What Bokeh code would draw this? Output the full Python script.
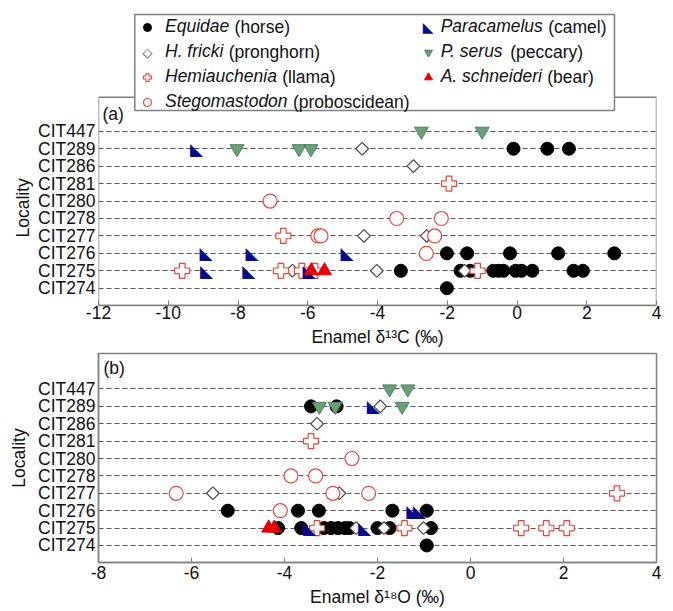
import math
from bokeh.plotting import figure
from bokeh.models import (Range1d, FixedTicker, Legend, LegendItem, Label, Title,
                          BoxAnnotation)
from bokeh.layouts import column
from bokeh.embed import file_html
from bokeh.resources import INLINE
from bokeh.core.properties import value

LOCALITIES = ["CIT274", "CIT275", "CIT276", "CIT277", "CIT278",
              "CIT280", "CIT281", "CIT286", "CIT289", "CIT447"]

XTICKS_A = [-12, -10, -8, -6, -4, -2, 0, 2, 4]
XTICKS_B = [-8, -6, -4, -2, 0, 2, 4]

# ---------------- panel (a): enamel d13C ----------------
EQ_C_LOC = ["CIT289", "CIT289", "CIT289",
            "CIT276", "CIT276", "CIT276", "CIT276", "CIT276",
            "CIT275", "CIT275", "CIT275", "CIT275", "CIT275", "CIT275",
            "CIT275", "CIT275", "CIT275", "CIT275", "CIT275",
            "CIT274"]
EQ_C = [-0.1, 0.87, 1.49,
        -2.01, -1.43, -0.2, 1.18, 2.79,
        -3.33, -1.62, -1.34, -0.68, -0.53, -0.39,
        -0.04, 0.13, 0.44, 1.62, 1.89,
        -2.01]

HF_C_LOC = ["CIT289", "CIT286", "CIT277", "CIT277", "CIT275", "CIT275", "CIT275"]
HF_C = [-4.44, -2.97, -4.39, -2.59, -6.44, -4.02, -1.5]

HE_C_LOC = ["CIT281", "CIT277", "CIT275", "CIT275", "CIT275", "CIT275", "CIT275"]
HE_C = [-1.95, -6.7, -9.6, -6.77, -6.17, -5.79, -1.13]

ST_C_LOC = ["CIT280", "CIT278", "CIT278", "CIT277", "CIT277", "CIT277", "CIT276"]
ST_C = [-7.08, -3.45, -2.17, -5.71, -5.62, -2.36, -2.6]

PA_C_LOC = ["CIT289", "CIT276", "CIT276", "CIT276", "CIT275", "CIT275", "CIT275"]
PA_C = [-9.19, -8.92, -7.6, -4.87, -8.9, -7.69, -5.96]

PS_C_LOC = ["CIT447", "CIT447", "CIT289", "CIT289", "CIT289"]
PS_C = [-2.74, -1.0, -8.03, -6.25, -5.91]

AS_C_LOC = ["CIT275", "CIT275"]
AS_C = [-5.9, -5.52]

# ---------------- panel (b): enamel d18O ----------------
EQ_O_LOC = ["CIT289", "CIT289",
            "CIT276", "CIT276", "CIT276", "CIT276", "CIT276",
            "CIT275", "CIT275", "CIT275", "CIT275", "CIT275", "CIT275",
            "CIT275", "CIT275", "CIT275", "CIT275",
            "CIT274"]
EQ_O = [-3.43, -2.88,
        -5.22, -3.71, -3.26, -1.68, -0.94,
        -4.14, -3.64, -3.15, -3.0, -2.85, -2.7,
        -2.6, -2.0, -1.74, -0.85,
        -0.94]

HF_O_LOC = ["CIT289", "CIT286", "CIT277", "CIT277", "CIT275", "CIT275", "CIT275"]
HF_O = [-1.94, -3.3, -5.54, -2.82, -2.46, -1.86, -1.01]

HE_O_LOC = ["CIT281", "CIT277", "CIT275", "CIT275", "CIT275", "CIT275", "CIT275"]
HE_O = [-3.43, 3.15, -3.3, -1.42, 1.09, 1.63, 2.07]

ST_O_LOC = ["CIT280", "CIT278", "CIT278", "CIT277", "CIT277", "CIT277", "CIT276"]
ST_O = [-2.55, -3.86, -3.33, -6.33, -2.96, -2.19, -4.09]

PA_O_LOC = ["CIT289", "CIT276", "CIT276", "CIT275", "CIT275"]
PA_O = [-2.09, -1.24, -1.1, -3.46, -2.28]

PS_O_LOC = ["CIT447", "CIT447", "CIT289", "CIT289", "CIT289"]
PS_O = [-1.74, -1.35, -3.25, -2.91, -1.47]

AS_O_LOC = ["CIT275", "CIT275"]
AS_O = [-4.34, -4.22]

SPECIES = ["Equidae", "H. fricki", "Hemiauchenia", "Stegomastodon",
           "Paracamelus", "P. serus", "A. schneideri"]
COMMON = ["(horse)", "(pronghorn)", "(llama)", "(proboscidean)",
          "(camel)", "(peccary)", "(bear)"]

FONT = "Liberation Sans"
FS = "17.5px"
GRAY = "#808080"
TXT = "#111111"
CAMEL = "#0a0a8c"
FRICKI = "#4a4a4a"


def yidx(locs):
    return [LOCALITIES.index(l) for l in locs]


def make_panel(xs, xticks, xlabel, height, btop, bbot, ylo, yhi,
               tick_standoff, lab_standoff, data):
    p = figure(width=673, height=height, output_backend="svg", toolbar_location=None,
               x_range=Range1d(xs[0], xs[1]), y_range=Range1d(ylo, yhi),
               min_border_left=98, min_border_right=17, min_border_top=btop,
               min_border_bottom=bbot)
    p.xgrid.visible = False
    p.ygrid.grid_line_color = "#555555"
    p.ygrid.grid_line_dash = "5 3"
    p.ygrid.grid_line_width = 1

    p.xaxis.ticker = FixedTicker(ticks=xticks)
    p.xaxis.major_label_overrides = {t: str(t) for t in xticks}
    p.xaxis.axis_label = xlabel
    p.xaxis.axis_label_standoff = lab_standoff
    p.xaxis.major_label_standoff = tick_standoff
    p.xaxis.major_tick_in = 5
    p.xaxis.major_tick_out = 0

    p.yaxis.ticker = FixedTicker(ticks=list(range(len(LOCALITIES))))
    p.yaxis.major_label_overrides = {i: n for i, n in enumerate(LOCALITIES)}
    p.yaxis.major_label_standoff = 3
    p.yaxis.major_tick_in = 0
    p.yaxis.major_tick_out = 0

    for ax in (p.xaxis[0], p.yaxis[0]):
        ax.axis_line_color = GRAY
        ax.axis_line_width = 1.5
        ax.major_tick_line_color = GRAY
        ax.minor_tick_line_color = None
        ax.major_label_text_font = FONT
        ax.major_label_text_font_size = FS
        ax.major_label_text_color = TXT
        ax.axis_label_text_font = FONT
        ax.axis_label_text_font_size = FS
        ax.axis_label_text_font_style = "normal"
        ax.axis_label_text_color = TXT

    (eq, hf, he, st, pa, ps, as_) = data
    r = {}
    r["Equidae"] = p.scatter(eq[1], yidx(eq[0]), marker="circle", size=13,
                             fill_color="black", line_color="black")
    r["H. fricki"] = p.scatter(hf[1], yidx(hf[0]), marker="square", angle=math.pi / 4,
                               size=9, fill_color="white", line_color=FRICKI, line_width=1.2)
    r["Hemiauchenia"] = p.scatter(he[1], yidx(he[0]), marker="plus", size=15,
                                  fill_color="white", line_color="#e8453c", line_width=1.2)
    r["Stegomastodon"] = p.scatter(st[1], yidx(st[0]), marker="circle", size=14,
                                   fill_color="white", line_color="#e8453c", line_width=1.2)
    r["Paracamelus"] = p.text(pa[1], yidx(pa[0]), text=value("\u25e3"),
                              text_font=value("DejaVu Sans"), text_font_size=value("17px"),
                              text_color=CAMEL, text_align="center",
                              text_baseline="middle")
    r["P. serus"] = p.scatter(ps[1], yidx(ps[0]), marker="inverted_triangle", size=14,
                              fill_color="#6a9f78", line_color="#4f7f5d")
    r["A. schneideri"] = p.scatter(as_[1], yidx(as_[0]), marker="triangle", size=14,
                                   fill_color="#e60000", line_color="#e60000")
    return p, r


# panel (a): frame extended upward so the legend can overlap the panel box
pa_, ra = make_panel((-12, 4), XTICKS_A, "Enamel \u03b4\u00b9\u00b3C (\u2030)",
                     350, 4, 45, -0.99, 16.27, 0, 5,
                     [(EQ_C_LOC, EQ_C), (HF_C_LOC, HF_C), (HE_C_LOC, HE_C),
                      (ST_C_LOC, ST_C), (PA_C_LOC, PA_C), (PS_C_LOC, PS_C),
                      (AS_C_LOC, AS_C)])
pa_.outline_line_color = None
pa_.yaxis.axis_line_color = None
pa_.add_layout(BoxAnnotation(left=-12, right=4, bottom=-0.99, top=10.95,
                             fill_alpha=0.0, line_color=GRAY, line_width=1.5,
                             line_alpha=1.0))
pa_.add_layout(Title(text="Locality", align="left", offset=68, standoff=6,
                     text_font=FONT, text_font_size=FS, text_font_style="normal",
                     text_color=TXT), "left")
pa_.add_layout(Label(x=4, y=192, x_units="screen", y_units="screen", text="(a)",
                     text_font=FONT, text_font_size=FS, text_baseline="middle",
                     text_color=TXT))

pb_, rb = make_panel((-8, 4), XTICKS_B, "Enamel \u03b4\u00b9\u2078O (\u2030)",
                     261, 3, 49, -0.98, 11.04, 3, 5,
                     [(EQ_O_LOC, EQ_O), (HF_O_LOC, HF_O), (HE_O_LOC, HE_O),
                      (ST_O_LOC, ST_O), (PA_O_LOC, PA_O), (PS_O_LOC, PS_O),
                      (AS_O_LOC, AS_O)])
pb_.outline_line_color = GRAY
pb_.outline_line_width = 1.5
pb_.yaxis.axis_label = "Locality"
pb_.yaxis.axis_label_standoff = 6
pb_.add_layout(Label(x=5, y=195, x_units="screen", y_units="screen", text="(b)",
                     text_font=FONT, text_font_size=FS, text_baseline="middle",
                     text_color=TXT))

# legend box (white, gray border) drawn as an annotation in screen units
pa_.add_layout(BoxAnnotation(left=36.3, right=516, bottom=195, top=291,
                             left_units="screen", right_units="screen",
                             bottom_units="screen", top_units="screen",
                             fill_color="white", fill_alpha=1.0,
                             line_color=GRAY, line_width=1.5, line_alpha=1.0))

# proxy (empty) glyph for legend entries whose marker is drawn as a label
proxy = pa_.text(x=[], y=[], text=value(""), text_alpha=0)

common_leg = dict(orientation="vertical", padding=2, spacing=2, glyph_width=20,
                  glyph_height=20, label_height=23, margin=0,
                  label_text_font=FONT, label_text_font_size=FS,
                  label_text_font_style="italic", label_text_color=TXT,
                  border_line_alpha=0.0, background_fill_alpha=0.0)


def leg_renderers(s):
    if s in ("H. fricki", "Paracamelus"):
        return [proxy]
    return [ra[s]]


leg1 = Legend(items=[LegendItem(label=value(s), renderers=leg_renderers(s)) for s in SPECIES[:4]],
              location=(37, 190), label_standoff=8, label_width=20, **common_leg)
leg2 = Legend(items=[LegendItem(label=value(s), renderers=leg_renderers(s)) for s in SPECIES[4:]],
              location=(317.7, 215), label_standoff=3, label_width=20, **common_leg)
pa_.add_layout(leg1, "center")
pa_.add_layout(leg2, "center")

ROW_Y = [278.5, 253.5, 228.5, 203.5]

# legend markers drawn as text symbols (rotated-square diamond and camel wedge)
pa_.add_layout(Label(x=49, y=ROW_Y[1], x_units="screen", y_units="screen", text="\u25c7",
                     text_font="DejaVu Sans", text_font_size="13px", text_color=FRICKI,
                     text_align="center", text_baseline="middle"))
pa_.add_layout(Label(x=329.7, y=ROW_Y[0], x_units="screen", y_units="screen", text="\u25e3",
                     text_font="DejaVu Sans", text_font_size="14px", text_color=CAMEL,
                     text_align="center", text_baseline="middle"))

# non-italic common names after the italic genus/species names
EM = {"Equidae": 3.669, "H. fricki": 3.333, "Hemiauchenia": 6.391, "Stegomastodon": 7.004,
      "Paracamelus": 5.835, "P. serus": 3.668, "A. schneideri": 5.78}
fs = 17.5
for i, (s, c) in enumerate(zip(SPECIES, COMMON)):
    if i < 4:
        x0, row = 67.0, i
    else:
        x0, row = 342.7, i - 4
    xx = x0 + EM[s] * fs + 0.278 * fs
    pa_.add_layout(Label(x=xx, y=ROW_Y[row], x_units="screen", y_units="screen", text=c,
                         text_font=FONT, text_font_size=FS, text_color=TXT,
                         text_baseline="middle"))

layout = column(pa_, pb_, spacing=0)
open("out.html", "w").write(file_html(layout, INLINE))
